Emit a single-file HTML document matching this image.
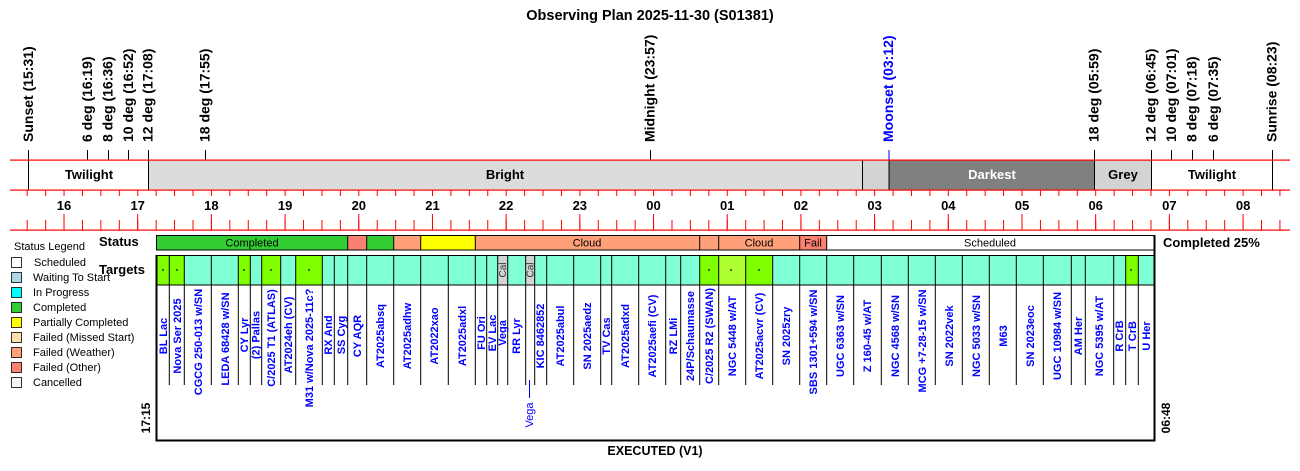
<!DOCTYPE html>
<html><head><meta charset="utf-8"><style>
html,body{margin:0;padding:0;background:#fff;}
svg{display:block;font-family:"Liberation Sans",Arial,sans-serif;}
.ev{font-size:14px;font-weight:bold;text-anchor:start;}
.tg{font-size:11px;font-weight:bold;fill:#0000ff;text-anchor:middle;}
.hr{font-size:13px;font-weight:bold;text-anchor:middle;}
.lg{font-size:11px;}
</style></head><body>
<svg width="1300" height="471" viewBox="0 0 1300 471" xmlns="http://www.w3.org/2000/svg">
<defs>
<pattern id="mt" patternUnits="userSpaceOnUse" x="26.7" y="0" width="18.4225" height="471"><rect x="0" y="0" width="1" height="471" fill="#f00"/></pattern>
<pattern id="ht" patternUnits="userSpaceOnUse" x="63.5" y="0" width="73.69" height="471"><rect x="0" y="0" width="1" height="471" fill="#f00"/></pattern>
</defs>
<text x="650" y="20" text-anchor="middle" font-size="14.5" font-weight="bold">Observing Plan 2025-11-30 (S01381)</text>

<rect x="28" y="160" width="120" height="30" fill="#fff"/>
<rect x="148" y="160" width="714" height="30" fill="#dcdcdc"/>
<rect x="862" y="160" width="27" height="30" fill="#d3d3d3"/>
<rect x="889" y="160" width="205" height="30" fill="#808080"/>
<rect x="1094" y="160" width="57" height="30" fill="#d3d3d3"/>
<g stroke="#000" stroke-width="1">
<line x1="28.5" y1="150" x2="28.5" y2="190"/>
<line x1="148.5" y1="150" x2="148.5" y2="190"/>
<line x1="862.5" y1="160" x2="862.5" y2="190"/>
<line x1="889" y1="160" x2="889" y2="190"/>
<line x1="1094.5" y1="150" x2="1094.5" y2="190"/>
<line x1="1151.5" y1="150" x2="1151.5" y2="190"/>
<line x1="1272.5" y1="150" x2="1272.5" y2="190"/>
<line x1="87.5" y1="150" x2="87.5" y2="160"/>
<line x1="108.5" y1="150" x2="108.5" y2="160"/>
<line x1="128.5" y1="150" x2="128.5" y2="160"/>
<line x1="205.5" y1="150" x2="205.5" y2="160"/>
<line x1="650.5" y1="150" x2="650.5" y2="160"/>
<line x1="1171.5" y1="150" x2="1171.5" y2="160"/>
<line x1="1192.5" y1="150" x2="1192.5" y2="160"/>
<line x1="1213.5" y1="150" x2="1213.5" y2="160"/>
</g>
<line x1="889" y1="150" x2="889" y2="160" stroke="#00f"/>
<g font-size="13" font-weight="bold" text-anchor="middle">
<text x="89" y="179">Twilight</text>
<text x="505" y="179">Bright</text>
<text x="992" y="179" fill="#fff">Darkest</text>
<text x="1123" y="179">Grey</text>
<text x="1212" y="179">Twilight</text>
</g>
<text class="ev" transform="translate(33,142) rotate(-90)">Sunset (15:31)</text>
<text class="ev" transform="translate(92,142) rotate(-90)">6 deg (16:19)</text>
<text class="ev" transform="translate(112.5,142) rotate(-90)">8 deg (16:36)</text>
<text class="ev" transform="translate(133,142) rotate(-90)">10 deg (16:52)</text>
<text class="ev" transform="translate(152.5,142) rotate(-90)">12 deg (17:08)</text>
<text class="ev" transform="translate(209.5,142) rotate(-90)">18 deg (17:55)</text>
<text class="ev" transform="translate(654.5,142) rotate(-90)">Midnight (23:57)</text>
<text class="ev" transform="translate(893,142) rotate(-90)" fill="#0000ff">Moonset (03:12)</text>
<text class="ev" transform="translate(1098.5,142) rotate(-90)">18 deg (05:59)</text>
<text class="ev" transform="translate(1155.5,142) rotate(-90)">12 deg (06:45)</text>
<text class="ev" transform="translate(1176,142) rotate(-90)">10 deg (07:01)</text>
<text class="ev" transform="translate(1196.5,142) rotate(-90)">8 deg (07:18)</text>
<text class="ev" transform="translate(1218,142) rotate(-90)">6 deg (07:35)</text>
<text class="ev" transform="translate(1276.5,142) rotate(-90)">Sunrise (08:23)</text>

<rect x="10" y="159.5" width="1280" height="1.2" fill="#f00"/>
<rect x="10" y="189.5" width="1280" height="1.2" fill="#f00"/>
<rect x="10" y="229.5" width="1280" height="1.2" fill="#f00"/>
<rect x="26" y="190" width="1264" height="6" fill="url(#mt)"/>
<rect x="26" y="220" width="1264" height="10" fill="url(#mt)"/>
<rect x="60" y="214" width="1230" height="16" fill="url(#ht)"/>
<g class="hr">
<text x="64" y="210" class="hr">16</text><text x="137.7" y="210" class="hr">17</text><text x="211.4" y="210" class="hr">18</text><text x="285.1" y="210" class="hr">19</text><text x="358.8" y="210" class="hr">20</text><text x="432.5" y="210" class="hr">21</text><text x="506.1" y="210" class="hr">22</text><text x="579.8" y="210" class="hr">23</text><text x="653.5" y="210" class="hr">00</text><text x="727.2" y="210" class="hr">01</text><text x="800.9" y="210" class="hr">02</text><text x="874.6" y="210" class="hr">03</text><text x="948.3" y="210" class="hr">04</text><text x="1022" y="210" class="hr">05</text><text x="1095.7" y="210" class="hr">06</text><text x="1169.4" y="210" class="hr">07</text><text x="1243.1" y="210" class="hr">08</text>
</g>

<text x="14" y="250" class="lg">Status Legend</text>
<g stroke="#000" stroke-width="0.8">
<rect x="11.5" y="257.5" width="10" height="10" fill="#fff"/>
<rect x="11.5" y="272.5" width="10" height="10" fill="#add8e6"/>
<rect x="11.5" y="287.5" width="10" height="10" fill="#00ffff"/>
<rect x="11.5" y="302.5" width="10" height="10" fill="#32cd32"/>
<rect x="11.5" y="317.5" width="10" height="10" fill="#ffff00"/>
<rect x="11.5" y="332.5" width="10" height="10" fill="#ffdead"/>
<rect x="11.5" y="347.5" width="10" height="10" fill="#ffa07a"/>
<rect x="11.5" y="362.5" width="10" height="10" fill="#fa8072"/>
<rect x="11.5" y="377.5" width="10" height="10" fill="#f5f5f5"/>
</g>
<g class="lg">
<text x="34" y="266" class="lg">Scheduled</text>
<text x="33" y="281" class="lg">Waiting To Start</text>
<text x="33" y="296" class="lg">In Progress</text>
<text x="33" y="311" class="lg">Completed</text>
<text x="33" y="326" class="lg">Partially Completed</text>
<text x="33" y="341" class="lg">Failed (Missed Start)</text>
<text x="33" y="356" class="lg">Failed (Weather)</text>
<text x="33" y="371" class="lg">Failed (Other)</text>
<text x="33" y="386" class="lg">Cancelled</text>
</g>
<text x="99" y="246" font-size="13" font-weight="bold">Status</text>
<text x="99" y="274" font-size="13" font-weight="bold">Targets</text>
<text x="1163" y="247" font-size="13" font-weight="bold">Completed 25%</text>

<rect x="156" y="235.5" width="191.7" height="14.5" fill="#32cd32"/>
<rect x="347.7" y="235.5" width="19" height="14.5" fill="#fa8072"/>
<rect x="366.7" y="235.5" width="27" height="14.5" fill="#32cd32"/>
<rect x="393.7" y="235.5" width="27" height="14.5" fill="#ffa07a"/>
<rect x="420.7" y="235.5" width="54.6" height="14.5" fill="#ffff00"/>
<rect x="475.3" y="235.5" width="224.4" height="14.5" fill="#ffa07a"/>
<rect x="699.7" y="235.5" width="19" height="14.5" fill="#ffa07a"/>
<rect x="718.7" y="235.5" width="81" height="14.5" fill="#ffa07a"/>
<rect x="799.7" y="235.5" width="27" height="14.5" fill="#fa8072"/>
<rect x="826.7" y="235.5" width="328" height="14.5" fill="#fff"/>
<g stroke="#000" stroke-width="1" fill="none">
<rect x="156.5" y="235.5" width="998" height="14.5"/>
<line x1="347.7" y1="235.5" x2="347.7" y2="250"/><line x1="366.7" y1="235.5" x2="366.7" y2="250"/><line x1="393.7" y1="235.5" x2="393.7" y2="250"/><line x1="420.7" y1="235.5" x2="420.7" y2="250"/><line x1="475.3" y1="235.5" x2="475.3" y2="250"/><line x1="699.7" y1="235.5" x2="699.7" y2="250"/><line x1="718.7" y1="235.5" x2="718.7" y2="250"/><line x1="799.7" y1="235.5" x2="799.7" y2="250"/><line x1="826.7" y1="235.5" x2="826.7" y2="250"/>
</g>
<g font-size="11" text-anchor="middle">
<text x="252" y="246.5">Completed</text>
<text x="587" y="246.5">Cloud</text>
<text x="759" y="246.5">Cloud</text>
<text x="813" y="246.5">Fail</text>
<text x="990" y="246.5">Scheduled</text>
</g>

<rect x="156" y="255.5" width="998.7" height="29.5" fill="#7fffd4"/>
<g fill="#80ff00">
<rect x="156" y="255.5" width="13.3" height="29.5"/>
<rect x="169.3" y="255.5" width="15" height="29.5"/>
<rect x="238.3" y="255.5" width="12" height="29.5"/>
<rect x="261.7" y="255.5" width="19" height="29.5"/>
<rect x="295.7" y="255.5" width="26.6" height="29.5"/>
<rect x="699.7" y="255.5" width="19" height="29.5"/>
<rect x="745.7" y="255.5" width="27" height="29.5"/>
<rect x="1125.7" y="255.5" width="12.6" height="29.5"/>
</g>
<rect x="718.7" y="255.5" width="27" height="29.5" fill="#adff2f"/>
<rect x="497.7" y="255.5" width="10" height="29.5" fill="#d3d3d3"/>
<rect x="525.7" y="255.5" width="9" height="29.5" fill="#d3d3d3"/>
<g fill="#000">
<circle cx="163" cy="270" r="0.9"/><circle cx="177" cy="270" r="0.9"/><circle cx="244" cy="270" r="0.9"/><circle cx="271" cy="270" r="0.9"/><circle cx="309" cy="270" r="0.9"/><circle cx="709" cy="270" r="0.9"/><circle cx="731" cy="270" r="0.9"/><circle cx="759" cy="270" r="0.9"/><circle cx="1131" cy="270" r="0.9"/>
</g>
<g font-size="10" fill="#333" text-anchor="middle">
<text transform="translate(506,270) rotate(-90)">Cal</text>
<text transform="translate(533.5,270) rotate(-90)">Cal</text>
</g>
<g stroke="#000" stroke-width="1">
<line x1="156" y1="255.5" x2="1155" y2="255.5"/>
<line x1="156" y1="285" x2="1155" y2="285"/>
<path d="M169.3 255V385M184.3 255V385M211.3 255V385M238.3 255V385M250.3 255V385M261.7 255V385M280.7 255V385M295.7 255V385M322.3 255V385M334.3 255V385M347.7 255V385M366.7 255V385M393.7 255V385M420.7 255V385M448.3 255V385M475.3 255V385M486.7 255V385M497.7 255V385M507.7 255V385M525.7 255V385M534.7 255V385M546.7 255V385M573.7 255V385M600.7 255V385M611.7 255V385M638.7 255V385M665.7 255V385M680.7 255V385M699.7 255V385M718.7 255V385M745.7 255V385M772.7 255V385M799.7 255V385M826.7 255V385M853.7 255V385M881.3 255V385M908.3 255V385M935.3 255V385M962.3 255V385M989.3 255V385M1016.3 255V385M1043.3 255V385M1071.3 255V385M1085.3 255V385M1113.7 255V385M1125.7 255V385M1138.3 255V385"/>
</g>
<line x1="156.5" y1="255" x2="156.5" y2="441" stroke="#000" stroke-width="2"/>
<line x1="1154.5" y1="235" x2="1154.5" y2="441" stroke="#000" stroke-width="2"/>
<line x1="155.5" y1="440.5" x2="1155.5" y2="440.5" stroke="#000" stroke-width="2"/>

<g class="tg">
<text transform="translate(167,336) rotate(-90)" class="tg">BL Lac</text>
<text transform="translate(181,336) rotate(-90)" class="tg">Nova Ser 2025</text>
<text transform="translate(202,342) rotate(-90)" class="tg">CGCG 250-013 w/SN</text>
<text transform="translate(229,339) rotate(-90)" class="tg">LEDA 68428 w/SN</text>
<text transform="translate(248,335) rotate(-90)" class="tg">CY Lyr</text>
<text transform="translate(259.5,335) rotate(-90)" class="tg">(2) Pallas</text>
<text transform="translate(275,338) rotate(-90)" class="tg">C/2025 T1 (ATLAS)</text>
<text transform="translate(292,335) rotate(-90)" class="tg">AT2024eh (CV)</text>
<text transform="translate(313,348) rotate(-90)" class="tg">M31 w/Nova 2025-11c?</text>
<text transform="translate(332,335) rotate(-90)" class="tg">RX And</text>
<text transform="translate(345,335) rotate(-90)" class="tg">SS Cyg</text>
<text transform="translate(361,336) rotate(-90)" class="tg">CY AQR</text>
<text transform="translate(384,336) rotate(-90)" class="tg">AT2025absq</text>
<text transform="translate(411,336) rotate(-90)" class="tg">AT2025adhw</text>
<text transform="translate(438,336) rotate(-90)" class="tg">AT2022xao</text>
<text transform="translate(466,336) rotate(-90)" class="tg">AT2025adxl</text>
<text transform="translate(485,333) rotate(-90)" class="tg">FU Ori</text>
<text transform="translate(496,333) rotate(-90)" class="tg">EV Lac</text>
<text transform="translate(506,333) rotate(-90)" class="tg">Vega</text>
<text transform="translate(520,336) rotate(-90)" class="tg">RR Lyr</text>
<text transform="translate(544,336) rotate(-90)" class="tg">KIC 8462852</text>
<text transform="translate(564,336) rotate(-90)" class="tg">AT2025abul</text>
<text transform="translate(591,336) rotate(-90)" class="tg">SN 2025aedz</text>
<text transform="translate(610,336) rotate(-90)" class="tg">TV Cas</text>
<text transform="translate(629,336) rotate(-90)" class="tg">AT2025adxd</text>
<text transform="translate(656,336) rotate(-90)" class="tg">AT2025aefi (CV)</text>
<text transform="translate(677,336) rotate(-90)" class="tg">RZ LMi</text>
<text transform="translate(694,336) rotate(-90)" class="tg">24P/Schaumasse</text>
<text transform="translate(713,336) rotate(-90)" class="tg">C/2025 R2 (SWAN)</text>
<text transform="translate(736,336) rotate(-90)" class="tg">NGC 5448 w/AT</text>
<text transform="translate(763,336) rotate(-90)" class="tg">AT2025acvr (CV)</text>
<text transform="translate(790,336) rotate(-90)" class="tg">SN 2025zry</text>
<text transform="translate(817,342) rotate(-90)" class="tg">SBS 1301+594 w/SN</text>
<text transform="translate(844,336) rotate(-90)" class="tg">UGC 6363 w/SN</text>
<text transform="translate(871,336) rotate(-90)" class="tg">Z 160-45 w/AT</text>
<text transform="translate(899,336) rotate(-90)" class="tg">NGC 4568 w/SN</text>
<text transform="translate(926,341) rotate(-90)" class="tg">MCG +7-28-15 w/SN</text>
<text transform="translate(953,336) rotate(-90)" class="tg">SN 2022vek</text>
<text transform="translate(980,336) rotate(-90)" class="tg">NGC 5033 w/SN</text>
<text transform="translate(1007,336) rotate(-90)" class="tg">M63</text>
<text transform="translate(1034,336) rotate(-90)" class="tg">SN 2023eoc</text>
<text transform="translate(1061,336) rotate(-90)" class="tg">UGC 10984 w/SN</text>
<text transform="translate(1082,336) rotate(-90)" class="tg">AM Her</text>
<text transform="translate(1103,336) rotate(-90)" class="tg">NGC 5395 w/AT</text>
<text transform="translate(1123,336) rotate(-90)" class="tg">R CrB</text>
<text transform="translate(1136,336) rotate(-90)" class="tg">T CrB</text>
<text transform="translate(1150,336) rotate(-90)" class="tg">U Her</text>
</g>
<line x1="529.5" y1="380" x2="529.5" y2="398" stroke="#0000ff"/>
<text transform="translate(533,415) rotate(-90)" text-anchor="middle" font-size="11" fill="#0000ff">Vega</text>

<text transform="translate(150,418) rotate(-90)" text-anchor="middle" font-size="12" font-weight="bold">17:15</text>
<text transform="translate(1170,418) rotate(-90)" text-anchor="middle" font-size="12" font-weight="bold">06:48</text>
<text x="655" y="455" text-anchor="middle" font-size="12.5" font-weight="bold">EXECUTED (V1)</text>
</svg>
</body></html>
